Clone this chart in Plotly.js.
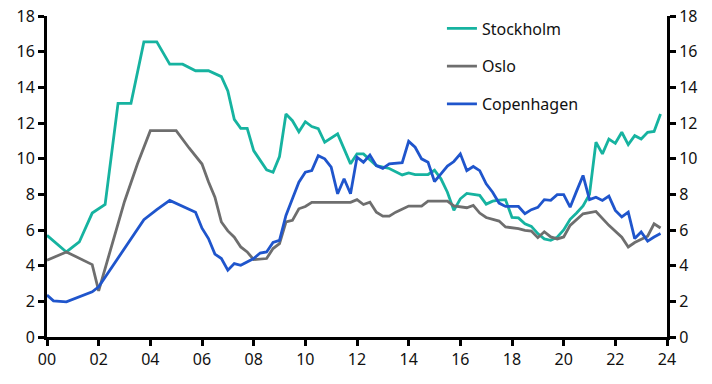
<!DOCTYPE html>
<html><head><meta charset="utf-8">
<script src="https://cdn.plot.ly/plotly-3.0.1.min.js"></script>
<style>html,body{margin:0;padding:0;background:#fff;}#chart{width:712px;height:384px;}</style>
</head><body><div id="chart"></div>
<script>
// years since 2000
const stockholmX = [0,0.75,1.25,1.75,2.25,2.75,3.25,3.75,4.25,4.75,5.25,5.75,6.25,6.75,7.0,7.25,7.5,7.75,8.0,8.5,8.75,9.0,9.25,9.5,9.75,10.0,10.25,10.5,10.75,11.25,11.75,12.0,12.25,12.5,12.75,13.25,13.75,14.0,14.25,14.75,15.0,15.25,15.5,15.75,16.0,16.25,16.5,16.75,17.0,17.25,17.5,17.75,18.0,18.25,18.5,18.75,19.0,19.25,19.5,19.75,20.0,20.25,20.5,20.75,21.0,21.25,21.5,21.75,22.0,22.25,22.5,22.75,23.0,23.25,23.5,23.75];
const stockholmY = [5.7,4.77,5.33,6.95,7.43,13.1,13.1,16.55,16.55,15.3,15.3,14.93,14.93,14.6,13.8,12.2,11.7,11.7,10.45,9.37,9.24,10.12,12.5,12.13,11.51,12.07,11.8,11.68,10.92,11.39,9.71,10.27,10.27,9.96,9.61,9.45,9.09,9.2,9.11,9.11,9.35,8.87,8.12,7.1,7.75,8.05,7.98,7.94,7.45,7.62,7.68,7.7,6.7,6.68,6.35,6.2,5.8,5.5,5.42,5.6,6.0,6.6,6.95,7.35,8.0,10.92,10.27,11.1,10.86,11.48,10.79,11.29,11.1,11.48,11.53,12.5];

const osloX = [0,0.75,1.75,2.0,3.0,3.5,4.0,5.0,5.5,6.0,6.25,6.5,6.75,7.0,7.25,7.5,7.75,8.0,8.5,8.75,9.0,9.25,9.5,9.75,10.0,10.25,11.75,12.0,12.25,12.5,12.75,13.0,13.25,13.5,14.0,14.5,14.75,15.5,15.75,16.25,16.5,16.75,17.0,17.5,17.75,18.25,18.5,18.75,19.0,19.25,19.5,19.75,20.0,20.25,20.75,21.25,21.75,22.25,22.5,22.75,23.25,23.5,23.75];
const osloY = [4.3,4.77,4.06,2.59,7.6,9.7,11.57,11.57,10.6,9.7,8.7,7.84,6.45,5.95,5.6,5.05,4.77,4.34,4.4,4.96,5.24,6.45,6.54,7.19,7.32,7.55,7.55,7.7,7.43,7.56,7.0,6.78,6.78,7.0,7.34,7.34,7.62,7.62,7.35,7.25,7.38,6.95,6.7,6.5,6.17,6.08,5.98,5.94,5.57,5.9,5.61,5.5,5.61,6.26,6.91,7.04,6.26,5.6,5.05,5.3,5.65,6.35,6.11];

const copenhagenX = [0,0.25,0.75,1.25,1.75,2.0,2.75,3.25,3.75,4.25,4.75,5.75,6.0,6.25,6.5,6.75,7.0,7.25,7.5,8.0,8.25,8.5,8.75,9.0,9.25,9.5,9.75,10.0,10.25,10.5,10.75,11.0,11.25,11.5,11.75,12.0,12.25,12.5,12.75,13.0,13.25,13.75,14.0,14.25,14.5,14.75,15.0,15.25,15.5,15.75,16.0,16.25,16.5,16.75,17.0,17.25,17.5,17.75,18.25,18.5,18.75,19.0,19.25,19.5,19.75,20.0,20.25,20.5,20.75,21.0,21.25,21.5,21.75,22.0,22.25,22.5,22.75,23.0,23.25,23.5,23.75];
const copenhagenY = [2.35,2.03,1.97,2.25,2.53,2.81,4.4,5.46,6.58,7.14,7.66,7.0,6.1,5.52,4.65,4.4,3.75,4.12,4.02,4.4,4.71,4.77,5.3,5.42,6.82,7.75,8.68,9.24,9.33,10.17,9.99,9.52,8.03,8.87,8.03,10.08,9.8,10.2,9.61,9.46,9.71,9.78,10.97,10.64,9.99,9.8,8.72,9.15,9.58,9.84,10.27,9.33,9.56,9.33,8.59,8.12,7.51,7.32,7.32,6.91,7.14,7.27,7.7,7.66,7.98,7.98,7.28,8.18,9.06,7.7,7.84,7.66,7.9,7.1,6.73,7.0,5.52,5.89,5.38,5.61,5.8];

const xTickVals = [0,2,4,6,8,10,12,14,16,18,20,22,24];
const xTickText = ["00","02","04","06","08","10","12","14","16","18","20","22","24"];
const yTickVals = [0,2,4,6,8,10,12,14,16,18];

const traces = [
  {x: stockholmX, y: stockholmY, name: "Stockholm", legendgroup: "a", mode: "lines", line: {color: "#16B3A0", width: 2.8}},
  {x: osloX, y: osloY, name: "Oslo", legendgroup: "b", mode: "lines", line: {color: "#6E6E6E", width: 2.8}},
  {x: copenhagenX, y: copenhagenY, name: "Copenhagen", legendgroup: "c", mode: "lines", line: {color: "#1F55CC", width: 2.8}},
  {x: copenhagenX, y: copenhagenY, yaxis: "y2", showlegend: false, hoverinfo: "skip", mode: "lines", line: {color: "rgba(0,0,0,0)", width: 0}}
];

const axisFont = {family: "Noto Sans, sans-serif", size: 16, color: "#111"};
const layout = {
  width: 712, height: 384,
  margin: {l: 47, r: 45, t: 15, b: 47},
  paper_bgcolor: "#fff", plot_bgcolor: "#fff",
  showlegend: true,
  legend: {x: 0.637, y: 1.011, xanchor: "left", yanchor: "top", traceorder: "grouped", tracegroupgap: 14,
           font: {family: "Noto Sans, sans-serif", size: 16, color: "#111"}, bgcolor: "rgba(0,0,0,0)"},
  xaxis: {range: [0, 24], tickvals: xTickVals, ticktext: xTickText, showgrid: false, zeroline: false,
          showline: true, linecolor: "#000", linewidth: 3, ticks: "outside", ticklen: 6, tickwidth: 3, tickcolor: "#000",
          tickfont: axisFont, fixedrange: true},
  yaxis: {range: [0, 18], tickvals: yTickVals, showgrid: false, zeroline: false,
          showline: true, linecolor: "#000", linewidth: 3, ticks: "outside", ticklen: 6, tickwidth: 3, tickcolor: "#000",
          tickfont: axisFont, fixedrange: true},
  yaxis2: {range: [0, 18], tickvals: yTickVals, overlaying: "y", side: "right", showgrid: false, zeroline: false,
          showline: true, linecolor: "#000", linewidth: 3, ticks: "outside", ticklen: 6, tickwidth: 3, tickcolor: "#000",
          tickfont: axisFont, fixedrange: true}
};
Plotly.newPlot("chart", traces, layout, {displayModeBar: false, staticPlot: true});
</script></body></html>
